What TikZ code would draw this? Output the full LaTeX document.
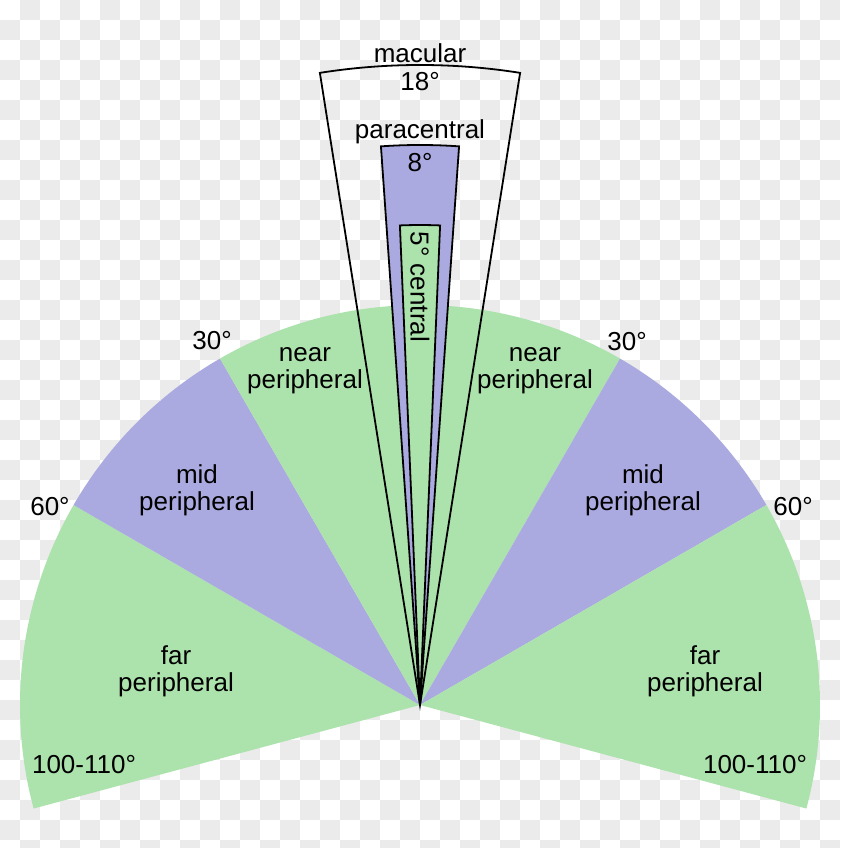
\documentclass[tikz,border=0pt]{standalone}
\usepackage{fontspec}
\setmainfont{Liberation Sans}
\definecolor{fieldgreen}{RGB}{172,226,172}
\definecolor{fieldblue}{RGB}{170,170,224}
\definecolor{checker}{RGB}{235,235,235}

\begin{document}
\begin{tikzpicture}[
x=1pt, y=1pt,
lbl/.style={font=\fontsize{26}{27}\selectfont, inner sep=0pt, align=center},
wedge/.style={draw=black, line width=1.8pt} ]

\useasboundingbox (-420,-143) rectangle (420,705);
\clip (-420,-143) rectangle (420,705);

% background
\fill[white] (-420,-143) rectangle (420,705);
\foreach \i in {0,...,41} {
  \foreach \j in {0,...,42} {
    \pgfmathtruncatemacro{\chk}{mod(\i+\j,2)}
    \ifnum\chk=1
      \fill[checker] (\i*20-420,705-\j*20) rectangle ++(20,-20);
    \fi
  }
}

% peripheral sectors
\fill[fieldgreen] (0,0) -- (150:400) arc[start angle=150, end angle=195, radius=400] -- cycle;
\fill[fieldblue] (0,0) -- (120:400) arc[start angle=120, end angle=150, radius=400] -- cycle;
\fill[fieldgreen] (0,0) -- (60:400) arc[start angle=60, end angle=120, radius=400] -- cycle;
\fill[fieldblue] (0,0) -- (30:400) arc[start angle=30, end angle=60, radius=400] -- cycle;
\fill[fieldgreen] (0,0) -- (-15:400) arc[start angle=-15, end angle=30, radius=400] -- cycle;

% central wedges
\draw[wedge] (0,0) -- (99:640) arc[start angle=99, end angle=81, radius=640] -- cycle;
\draw[wedge, fill=fieldblue] (0,0) -- (94:560) arc[start angle=94, end angle=86, radius=560] -- cycle;
\draw[wedge, fill=fieldgreen] (0,0) -- (92.4:480) arc[start angle=92.4, end angle=87.6, radius=480] -- cycle;

\node[lbl](macular) at (0,652) {macular};
\node[lbl](macdeg) at (0,623.5) {18°};
\node[lbl](para) at (0,573.5) {paracentral};
\node[lbl](paradeg) at (0,542.5) {8°};
\node[lbl, rotate=-90](central) at (0,418) {5° central};

\node[lbl](nearL) at (-115,334) {near\\peripheral};
\node[lbl](nearR) at (115,334) {near\\peripheral};
\node[lbl](midL) at (-223,215) {mid\\peripheral};
\node[lbl](midR) at (223,215) {mid\\peripheral};
\node[lbl](farL) at (-244,34) {far\\peripheral};
\node[lbl](farR) at (285,34) {far\\peripheral};

\node[lbl](thirtyL) at (-208,364) {30°};
\node[lbl](thirtyR) at (207,363) {30°};
\node[lbl](sixtyL) at (-370,198) {60°};
\node[lbl](sixtyR) at (373,198) {60°};
\node[lbl](limitL) at (-336,-60) {100-110°};
\node[lbl](limitR) at (335,-60) {100-110°};

\end{tikzpicture}
\end{document}
